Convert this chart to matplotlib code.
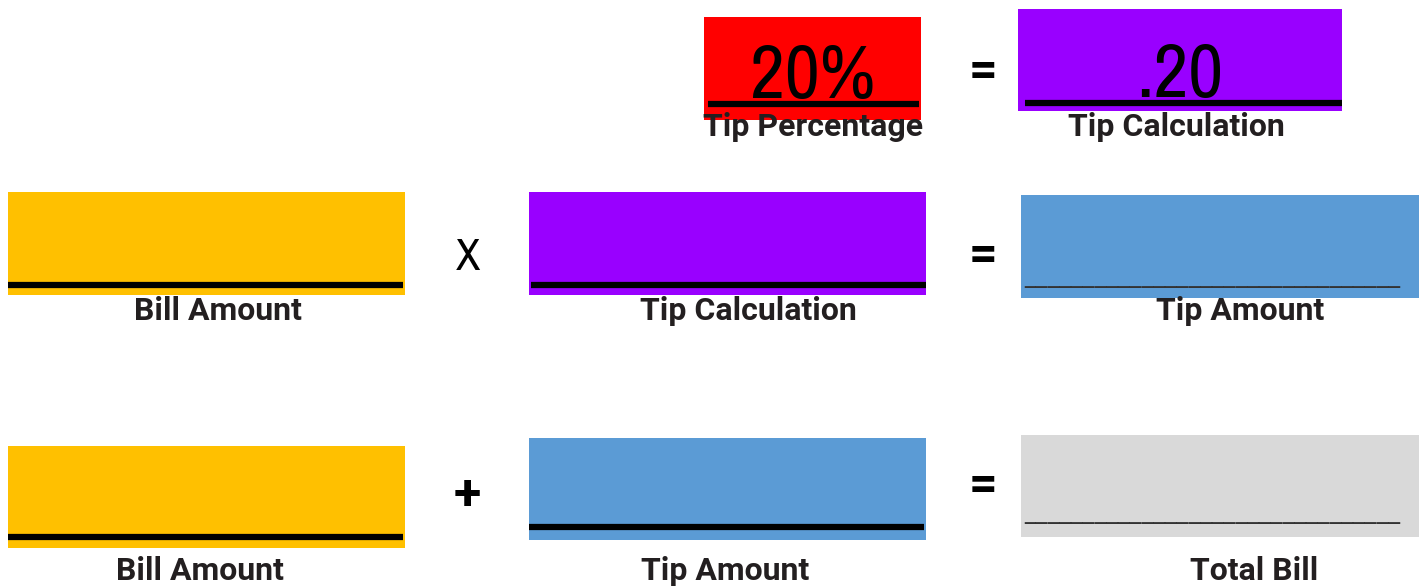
import matplotlib.pyplot as plt
from matplotlib import font_manager
from matplotlib.patches import Rectangle

# worksheet content
tip_percent = "20%"
tip_decimal = ".20"
labels = ["Tip Percentage", "Tip Calculation",
          "Bill Amount", "Tip Calculation", "Tip Amount",
          "Bill Amount", "Tip Amount", "Total Bill"]
operators = ["=", "X", "=", "+", "="]

# look for a narrow face for the big numbers, the worksheet uses a condensed type
fonts = font_manager.fontManager.ttflist
narrow = [f for f in fonts if "Narrow" in f.name or "Condensed" in f.name]
NARROW = dict(family=narrow[0].name) if narrow else dict(family="DejaVu Sans")
LABEL = dict(family=["Roboto", "DejaVu Sans"], fontweight="bold", fontsize=23)

RED = "#ff0000"
PURPLE = "#9900ff"
YELLOW = "#ffc000"
BLUE = "#5b9bd5"
GRAY = "#d9d9d9"
INK = "#231f20"

fig = plt.figure(figsize=(14.24, 5.86), dpi=100)
ax = fig.add_axes([0, 0, 1, 1])
ax.set_xlim(0, 1424)
ax.set_ylim(586, 0)
ax.axis("off")

# boxes: (x0, y0, x1, y1, colour)
boxes = [(704, 17, 921, 120, RED), (1018, 9, 1342, 111, PURPLE),
         (8, 192, 405, 295, YELLOW), (529, 192, 926, 295, PURPLE),
         (1021, 195, 1419, 298, BLUE),
         (8, 446, 405, 548, YELLOW), (529, 438, 926, 540, BLUE),
         (1021, 435, 1419, 537, GRAY)]
for x0, y0, x1, y1, c in boxes:
    ax.add_patch(Rectangle((x0, y0), x1 - x0, y1 - y0, color=c, lw=0))

# thick underlines
for x0, x1, y in [(708, 919, 104), (1025, 1342, 103), (8, 403, 285),
                  (531, 926, 285), (8, 403, 537), (529, 924, 527)]:
    ax.plot([x0, x1], [y, y], color="black", lw=4.5, solid_capstyle="butt")

# thin underscore rules in the result boxes
for y in [282, 518]:
    ax.text(1212, y, "_" * 32, ha="center", va="baseline", fontsize=17,
            color="#333333", family="DejaVu Sans")

ax.text(813, 98, tip_percent, ha="center", va="baseline", fontsize=55, color="black", **NARROW)
ax.text(1180, 97, tip_decimal, ha="center", va="baseline", fontsize=55, color="black", **NARROW)

label_pos = [(813, 127), (1176, 127), (218, 311), (748, 311), (1240, 311),
             (200, 571), (725, 571), (1254, 571)]
for (x, y), t in zip(label_pos, labels):
    ax.text(x, y, t, ha="center", va="center", color=INK, **LABEL)

op_pos = [(983, 72), (468, 258), (983, 257), (467, 497), (983, 487)]
for (x, y), t in zip(op_pos, operators):
    if t == "X":
        ax.text(x, y, t, ha="center", va="center", fontsize=32, color="black", **NARROW)
    else:
        ax.text(x, y, t, ha="center", va="center", fontsize=36, fontweight="bold",
                family=["Roboto", "DejaVu Sans"], color="black")

fig.savefig("out.png", dpi=100)
